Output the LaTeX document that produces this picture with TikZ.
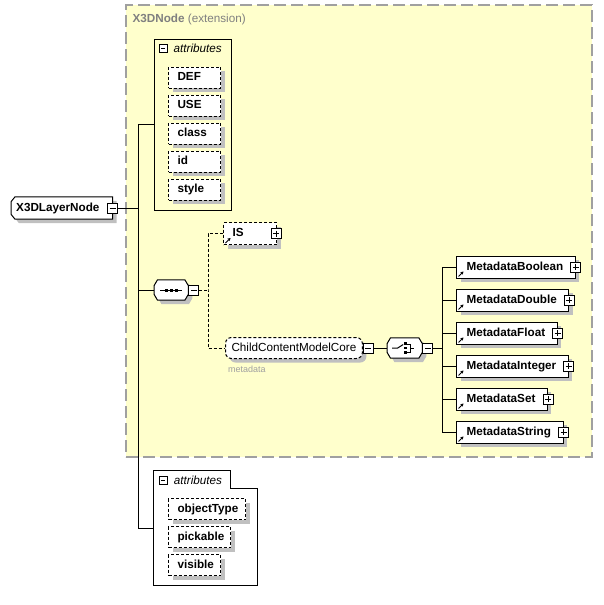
\documentclass[tikz,border=0pt]{standalone}
\usepackage{fontspec}
\setmainfont{Liberation Sans}
\usepackage{tikz}
\usetikzlibrary{arrows.meta,positioning,backgrounds}
\definecolor{xsyellow}{RGB}{255,255,204}
\definecolor{xsgray}{RGB}{160,160,160}
\definecolor{xsshadow}{RGB}{192,192,192}
\definecolor{xslabel}{RGB}{128,128,128}
\definecolor{xsnote}{RGB}{160,160,160}
\newcommand{\xsfont}{\fontsize{11.7pt}{14pt}\selectfont}
\tikzstyle{conn} = [line width=1pt, color=black]
\tikzstyle{dashconn} = [conn, dash pattern=on 3pt off 2pt]
\tikzstyle{boxshadow} = [preaction={draw=none, fill=xsshadow, transform canvas={shift={(4pt,-4pt)}}}]
\tikzstyle{extension} = [rectangle, draw=xsgray, fill=xsyellow, line width=1.2pt, dash pattern=on 12pt off 5pt, minimum width=466pt, minimum height=452pt, inner sep=0pt]
\tikzstyle{attrgroup} = [rectangle, draw, line width=1pt, inner sep=0pt]
\tikzstyle{attritem} = [rectangle, draw, fill=white, line width=1pt, dash pattern=on 3pt off 2pt, boxshadow, inner sep=0pt, minimum height=21pt, text height=9pt, text depth=2.5pt, align=left, anchor=west, font=\xsfont\bfseries]
\tikzstyle{element} = [rectangle, draw, fill=white, line width=1pt, boxshadow, inner sep=0pt, minimum height=22pt, text height=9pt, text depth=2.5pt, anchor=west, font=\xsfont\bfseries]
\tikzstyle{rootelem} = [rectangle, inner sep=0pt, minimum height=22pt, text height=9pt, text depth=2.5pt, anchor=west, font=\xsfont\bfseries]
\tikzstyle{outline} = [draw, fill=white, line width=1pt, boxshadow]
\tikzstyle{groupref} = [rectangle, rounded corners=6pt, draw, fill=white, line width=1pt, dash pattern=on 3pt off 2pt, boxshadow, inner xsep=6pt, inner ysep=0pt, minimum height=21pt, text height=9pt, text depth=2.5pt, anchor=west, font=\xsfont]
\tikzstyle{compositor} = [rectangle, inner sep=0pt, minimum width=34pt, minimum height=20pt, anchor=west]
\tikzstyle{minusbox} = [rectangle, draw, fill=white, line width=0.8pt, minimum size=10pt, inner sep=0pt, path picture={\draw[line width=0.8pt] ([xshift=2pt]path picture bounding box.west) -- ([xshift=-2pt]path picture bounding box.east);}]
\tikzstyle{plusbox} = [minusbox, path picture={\draw[line width=0.8pt] ([xshift=2pt]path picture bounding box.west) -- ([xshift=-2pt]path picture bounding box.east); \draw[line width=0.8pt] ([yshift=-2pt]path picture bounding box.north) -- ([yshift=2pt]path picture bounding box.south);}]
\tikzstyle{hdr} = [inner sep=0pt, anchor=west, font=\xsfont\itshape]
\tikzstyle{refarrow} = [line width=0.8pt, -{Stealth[length=3pt,width=3.5pt]}]

\begin{document}
\begin{tikzpicture}[x=1pt, y=-1pt]
    \useasboundingbox (0,0) rectangle (603,605);

    % Extension area
    \begin{scope}[on background layer]
        \node[extension] (ext) at (359,231) {};
    \end{scope}
    \node[inner sep=0pt, anchor=west, text=xslabel, font=\xsfont] (extlbl) at ([shift={(7,15)}]ext.north west) {\textbf{X3DNode} (extension)};

    % Root element
    \node[rootelem] (root) at (11,208) {\hspace*{5pt}X3DLayerNode\hspace*{13pt}};
    \begin{scope}[on background layer]
        \draw[outline] ([xshift=4pt]root.north west) -- (root.north east) -- (root.south east) -- ([xshift=4pt]root.south west) -- ([yshift=5pt]root.south west) -- ([yshift=-5pt]root.north west) -- cycle;
    \end{scope}
    \node[minusbox] (rootm) at (root.east) {};
    \coordinate (trunk) at (139,208);

    % Attributes of X3DNode
    \node[attrgroup, minimum width=77pt, minimum height=171pt] (attr1) at (192.5,124.5) {};
    \node[minusbox, minimum size=8pt] (attr1m) at ([shift={(9.5,9.5)}]attr1.north west) {};
    \node[hdr, right=6pt of attr1m] (attr1lbl) {attributes};
    \foreach \a [count=\i] in {DEF,USE,class,id,style}
        \node[attritem, text width=52pt] (a\i) at (168,{49.5+28*\i}) {\hspace*{9pt}\a};

    % Attributes of X3DLayerNode
    \node[minimum width=103pt, minimum height=114pt, inner sep=0pt] (attr2) at (205.5,528) {};
    \draw[line width=1pt] (attr2.north west) -- ++(77,0) -- ++(0,18) -| (attr2.south east) -- (attr2.south west) -- cycle;
    \node[minusbox, minimum size=8pt] (attr2m) at ([shift={(9.5,9.5)}]attr2.north west) {};
    \node[hdr, right=6pt of attr2m] (attr2lbl) {attributes};
    \foreach \a/\w/\y in {objectType/77/509, pickable/62/537, visible/52/565}
        \node[attritem, text width=\w pt] (b\a) at (168,\y) {\hspace*{9pt}\a};

    % Sequence
    \node[compositor] (seq) at (154,290) {};
    \begin{scope}[on background layer]
        \draw[outline] ([xshift=3.5pt]seq.north west) -- ([xshift=-3.5pt]seq.north east) -- ([yshift=-6pt]seq.north east) -- ([yshift=6pt]seq.south east) -- ([xshift=-3.5pt]seq.south east) -- ([xshift=3.5pt]seq.south west) -- ([yshift=6pt]seq.south west) -- ([yshift=-6pt]seq.north west) -- cycle;
    \end{scope}
    \node[minusbox, anchor=west] (seqm) at (seq.east) {};
    \draw[line width=1pt] ([xshift=-11pt]seq.center) -- ([xshift=11pt]seq.center);
    \foreach \d in {-5,0,5}
        \fill ([shift={(\d-1.5,-1.5)}]seq.center) rectangle ++(3,3);
    \coordinate (seqj) at (208,290);

    % IS
    \node[element, dash pattern=on 3pt off 2pt, text width=53pt, align=left] (is) at (223,233.5) {\hspace*{9pt}IS};
    \node[plusbox] (isp) at ([xshift=-1pt]is.east) {};
    \draw[refarrow] ([shift={(2.5,-2)}]is.south west) -- ++(5,-5);

    % ChildContentModelCore
    \node[groupref] (cmc) at (225,348) {ChildContentModelCore};
    \node[minusbox, anchor=west] (cmcm) at (cmc.east) {};
    \node[anchor=north west, inner sep=0pt, text=xsnote, font=\fontsize{9pt}{10pt}\selectfont] (cmcnote) at ([shift={(3,7)}]cmc.south west) {metadata};

    % Choice
    \node[compositor, minimum width=35pt] (ch) at (387,348) {};
    \begin{scope}[on background layer]
        \draw[outline] ([xshift=3.5pt]ch.north west) -- ([xshift=-3.5pt]ch.north east) -- ([yshift=-6pt]ch.north east) -- ([yshift=6pt]ch.south east) -- ([xshift=-3.5pt]ch.south east) -- ([xshift=3.5pt]ch.south west) -- ([yshift=6pt]ch.south west) -- ([yshift=-6pt]ch.north west) -- cycle;
    \end{scope}
    \node[minusbox, anchor=west] (chm) at (ch.east) {};
    \draw[line width=1pt] ([xshift=-12.5pt]ch.center) -- ([xshift=-7pt]ch.center) -- ([shift={(-1.5,-3.5)}]ch.center);
    \foreach \d in {-4.5,0,4.5}
        \fill ([shift={(-0.8,\d-1.2)}]ch.center) rectangle ++(2.6,2.4);
    \draw[line width=1pt] ([shift={(2.5,-4)}]ch.center) -- ++(3.5,0) -- ++(0,8) -- ++(-3.5,0);
    \draw[line width=1pt] ([shift={(6,0)}]ch.center) -- ++(3,0);
    \coordinate (chj) at (442,348);

    % Metadata elements
    \foreach \m [count=\i] in {Boolean,Double,Float,Integer,Set,String} {
        \node[element] (m\i) at (456,{234+33*\i}) {\hspace*{10pt}Metadata\m\hspace*{12pt}};
        \node[plusbox] (m\i p) at (m\i.east) {};
        \draw[refarrow] ([shift={(2.5,-2)}]m\i.south west) -- ++(5,-5);
        \draw[conn] (chj |- m\i.west) -- (m\i.west);
    }

    % Connectors
    \draw[conn] (rootm.east) -- (trunk);
    \draw[conn] (attr1.west) -- ++(-15,0) |- (attr2.west);
    \draw[conn] (seq.west) -- (seq.west -| trunk);
    \draw[dashconn] (seqm.east) -- (seqj);
    \draw[dashconn] (is.west) -| (seqj) |- (cmc.west);
    \draw[conn] (cmcm.east) -- (ch.west);
    \draw[conn] (chm.east) -- (chj);
    \draw[conn] (chj |- m1.west) -- (chj |- m6.west);
\end{tikzpicture}
\end{document}
